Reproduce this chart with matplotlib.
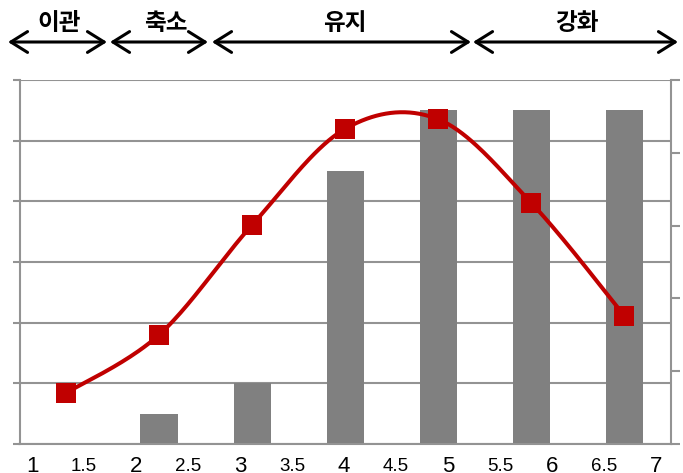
import numpy as np
import matplotlib
matplotlib.use('Agg')
import matplotlib.pyplot as plt
from matplotlib.transforms import blended_transform_factory

# ---------------- data ----------------
categories = [0, 1, 2, 3, 4, 5, 6]
bar_values = [0, 0.5, 1.0, 4.5, 5.5, 5.5, 5.5]
line_values = [0.70, 1.50, 3.01, 4.33, 4.46, 3.31, 1.76]
x_tick_values = [1, 1.5, 2, 2.5, 3, 3.5, 4, 4.5, 5, 5.5, 6, 6.5, 7]
x_tick_labels = ['1', '1.5', '2', '2.5', '3', '3.5', '4', '4.5', '5', '5.5', '6', '6.5', '7']
phase_labels = ['이관', '축소', '유지', '강화']

# ---------------- figure ----------------
W, H = 683, 473
fig = plt.figure(figsize=(W / 100, H / 100), dpi=100)
L, R, T, B = 19.5, 671, 80, 444
ax = fig.add_axes([L / W, 1 - B / H, (R - L) / W, (B - T) / H])

grid_c = '#939393'
ax.set_xlim(-0.5, 6.5)
ax.set_ylim(0, 6)
ax.set_yticks(range(7))
ax.set_xticks([])
ax.set_axisbelow(True)
ax.yaxis.grid(True, color=grid_c, lw=1.5)
ax.tick_params(axis='y', direction='out', length=5, width=1.5, color=grid_c,
               labelleft=False)
for s in ['top', 'right']:
    ax.spines[s].set_visible(False)
for s in ['left', 'bottom']:
    ax.spines[s].set_color(grid_c)
    ax.spines[s].set_linewidth(1.5)

ax.bar(categories, bar_values, width=0.4, color='#808080', zorder=2)

# right axis with smoothed line
ax2 = ax.twinx()
ax2.set_ylim(0, 5)
ax2.set_yticks(range(6))
ax2.tick_params(axis='y', direction='out', length=6.5, width=1.5, color=grid_c,
                labelright=False)
for s in ['top', 'left', 'bottom']:
    ax2.spines[s].set_visible(False)
ax2.spines['right'].set_color(grid_c)
ax2.spines['right'].set_linewidth(1.5)

# Catmull-Rom smoothing (rendering of the 7 points)
xs = np.array(categories, dtype=float)
ys = np.array(line_values, dtype=float)
px = np.concatenate([[xs[0]], xs, [xs[-1]]])
py = np.concatenate([[ys[0]], ys, [ys[-1]]])
cx, cy = [], []
t = np.linspace(0, 1, 40)
for i in range(1, len(px) - 2):
    for arr, out in ((px, cx), (py, cy)):
        p0, p1, p2, p3 = arr[i - 1], arr[i], arr[i + 1], arr[i + 2]
        out.extend(0.5 * ((2 * p1) + (-p0 + p2) * t +
                          (2 * p0 - 5 * p1 + 4 * p2 - p3) * t ** 2 +
                          (-p0 + 3 * p1 - 3 * p2 + p3) * t ** 3))
ax2.plot(cx, cy, color='#C00000', lw=2.9, solid_capstyle='round', zorder=3)
ax2.plot(categories, line_values, 's', color='#C00000', markersize=14.5,
         markeredgewidth=0, zorder=4)

# numeric labels under the axis (separate value scale)
ax3 = ax.twiny()
ax3.set_xlim(1 - (32 - L) / 104, 7 + (R - 656) / 104)
ax3.set_xticks([])
for s in ax3.spines.values():
    s.set_visible(False)
tr = blended_transform_factory(ax3.transData, ax.transAxes)
for v, lab in zip(x_tick_values, x_tick_labels):
    big = float(v).is_integer()
    base_px = 472 if big else 470.5
    ax3.text(v, (B - base_px) / (B - T), lab, transform=tr, ha='center',
             va='baseline', fontsize=16 if big else 13.5,
             family='Liberation Sans', clip_on=False)

# phase arrows and labels on top
spans = [(8, 107), (110, 208), (212, 471), (473, 678)]
arrow_y = 42
label_x = [59, 166, 345, 577]
for (x0, x1), lx, txt in zip(spans, label_x, phase_labels):
    ax.annotate('', xy=(x1 / W, 1 - arrow_y / H), xytext=(x0 / W, 1 - arrow_y / H),
                xycoords='figure fraction', textcoords='figure fraction',
                arrowprops=dict(arrowstyle='<->,head_length=1.2,head_width=0.75',
                                lw=2.2, color='black', shrinkA=0, shrinkB=0),
                annotation_clip=False)
    fig.text(lx / W, 1 - 23 / H, txt, ha='center', va='center', fontsize=17,
             fontweight='bold', family=['Noto Sans CJK KR', 'DejaVu Sans'])

fig.savefig('out.png', dpi=100)
